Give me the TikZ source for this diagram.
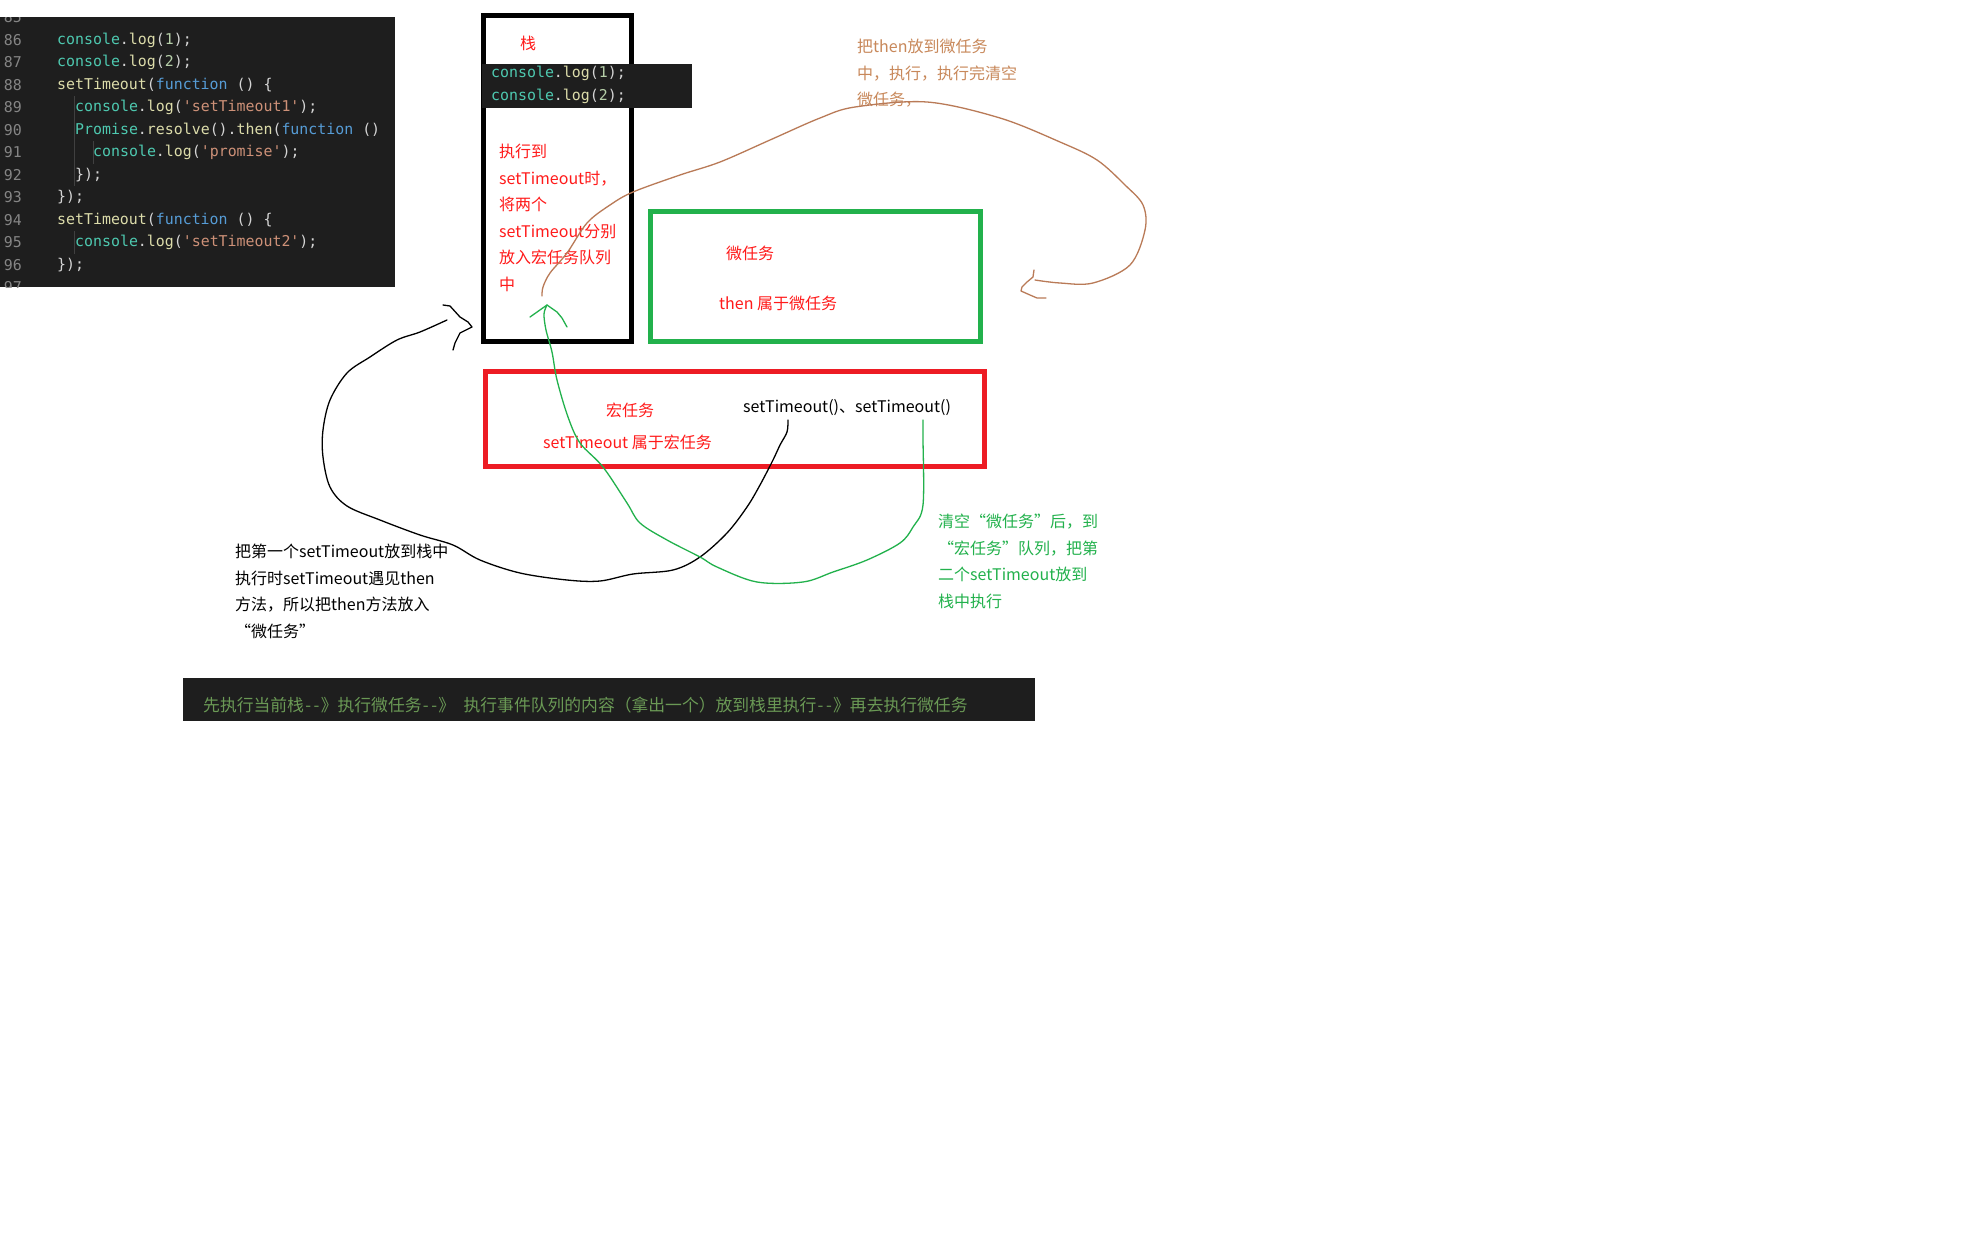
\documentclass[tikz,border=0pt]{standalone}
\usepackage{fontspec}
\newfontfamily\cjk{Noto Sans CJK SC}
\newfontfamily\codefont{DejaVu Sans Mono}
\definecolor{codebg}{HTML}{1E1E1E}
\definecolor{lnum}{HTML}{858585}
\definecolor{cteal}{HTML}{4EC9B0}
\definecolor{cyel}{HTML}{DCDCAA}
\definecolor{cblue}{HTML}{569CD6}
\definecolor{corange}{HTML}{CE9178}
\definecolor{cnum}{HTML}{B5CEA8}
\definecolor{cpunc}{HTML}{D4D4D4}
\definecolor{guide}{HTML}{404040}
\definecolor{pred}{HTML}{ED1C24}
\definecolor{tred}{HTML}{FF1A1A}
\definecolor{pgreen}{HTML}{22B14C}
\definecolor{pbrown}{HTML}{B97A57}
\definecolor{tbrown}{HTML}{C8885A}
\definecolor{cmtgreen}{HTML}{6A9955}
\newcommand\cTe[1]{\textcolor{cteal}{#1}}
\newcommand\cYe[1]{\textcolor{cyel}{#1}}
\newcommand\cBl[1]{\textcolor{cblue}{#1}}
\newcommand\cOr[1]{\textcolor{corange}{#1}}
\newcommand\cNu[1]{\textcolor{cnum}{#1}}
\newcommand\cPu[1]{\textcolor{cpunc}{#1}}
\newcommand\hyb{\makebox[0.5em][c]{-}}
\begin{document}
\begin{tikzpicture}[x=1pt,y=-1pt,
  lbl/.style={inner sep=0pt, font=\cjk\fontsize{16}{26.5}\selectfont, align=left},
  codeln/.style={inner sep=0pt, anchor=west, font=\codefont\fontsize{14.9}{18}\selectfont},
  lnumber/.style={inner sep=0pt, anchor=east, text=lnum, font=\codefont\fontsize{14.9}{18}\selectfont},
  paintbox/.style={line width=5pt},
  hand/.style={line width=1.3pt, line join=round, line cap=round}
]
\fill[white] (0,0) rectangle (1968,1232);
\useasboundingbox (0,0) rectangle (1968,1232);

% ---------- code block ----------
\begin{scope}
\clip (0,17) rectangle (395,287);
\fill[codebg] (0,17) rectangle (395,287);
\draw[guide, line width=1pt] (74,96) -- (74,186);
\draw[guide, line width=1pt] (93,141) -- (93,164);
\draw[guide, line width=1pt] (74,231) -- (74,254);
\node[lnumber] (n85) at (22,17.5) {85};
\node[lnumber] (n86) at (22,40) {86};
\node[lnumber] (n87) at (22,62.5) {87};
\node[lnumber] (n88) at (22,85) {88};
\node[lnumber] (n89) at (22,107.5) {89};
\node[lnumber] (n90) at (22,130) {90};
\node[lnumber] (n91) at (22,152.5) {91};
\node[lnumber] (n92) at (22,175) {92};
\node[lnumber] (n93) at (22,197.5) {93};
\node[lnumber] (n94) at (22,220) {94};
\node[lnumber] (n95) at (22,242.5) {95};
\node[lnumber] (n96) at (22,265) {96};
\node[lnumber] (n97) at (22,287.5) {97};
\node[codeln] (c86) at (57,40) {\cTe{console}\cPu{.}\cYe{log}\cPu{(}\cNu{1}\cPu{);}};
\node[codeln] (c87) at (57,62.5) {\cTe{console}\cPu{.}\cYe{log}\cPu{(}\cNu{2}\cPu{);}};
\node[codeln] (c88) at (57,85) {\cYe{setTimeout}\cPu{(}\cBl{function}\cPu{~()~\{}};
\node[codeln] (c89) at (75,107.5) {\cTe{console}\cPu{.}\cYe{log}\cPu{(}\cOr{'setTimeout1'}\cPu{);}};
\node[codeln] (c90) at (75,130) {\cTe{Promise}\cPu{.}\cYe{resolve}\cPu{().}\cYe{then}\cPu{(}\cBl{function}\cPu{~()}};
\node[codeln] (c91) at (93,152.5) {\cTe{console}\cPu{.}\cYe{log}\cPu{(}\cOr{'promise'}\cPu{);}};
\node[codeln] (c92) at (75,175) {\cPu{\});}};
\node[codeln] (c93) at (57,197.5) {\cPu{\});}};
\node[codeln] (c94) at (57,220) {\cYe{setTimeout}\cPu{(}\cBl{function}\cPu{~()~\{}};
\node[codeln] (c95) at (75,242.5) {\cTe{console}\cPu{.}\cYe{log}\cPu{(}\cOr{'setTimeout2'}\cPu{);}};
\node[codeln] (c96) at (57,265) {\cPu{\});}};
\end{scope}

% ---------- stack box ----------
\draw[paintbox, black] (483.5,15.5) rectangle (631.5,341.5);
\node[lbl, text=tred] (zhan) at (528,43) {栈};
\fill[codebg] (482,64) rectangle (692,108);
\node[codeln] (s1) at (491,73) {\cTe{console}\cPu{.}\cYe{log}\cPu{(}\cNu{1}\cPu{);}};
\node[codeln] (s2) at (491,96) {\cTe{console}\cPu{.}\cYe{log}\cPu{(}\cNu{2}\cPu{);}};
\node[lbl, text=tred, anchor=north west] (stacktxt) at (499,144)
  {执行到\\setTimeout时，\\将两个\\setTimeout分别\\放入宏任务队列\\中};

% ---------- micro task box ----------
\draw[paintbox, pgreen] (650.5,211.5) rectangle (980.5,341.5);
\node[lbl, text=tred] (wei) at (750,253) {微任务};
\node[lbl, text=tred, anchor=west] (thenlbl) at (719,303) {then 属于微任务};

% ---------- macro task box ----------
\draw[paintbox, pred] (485.5,371.5) rectangle (984.5,466.5);
\node[lbl, text=tred] (hong) at (630,410) {宏任务};
\node[lbl, text=tred, anchor=west] (stlbl) at (543,442) {setTimeout 属于宏任务};
\node[lbl, text=black, anchor=west] (sts) at (743,408) {setTimeout()、setTimeout()};

% ---------- explanation texts ----------
\node[lbl, text=tbrown, anchor=north west] (browntxt) at (857,39)
  {把then放到微任务\\中，执行，执行完清空\\微任务，};
\node[lbl, text=black, anchor=north west] (blacktxt) at (235,544)
  {把第一个setTimeout放到栈中\\执行时setTimeout遇见then\\方法，所以把then方法放入\\“微任务”};
\node[lbl, text=pgreen, anchor=north west] (greentxt) at (938,514)
  {清空“微任务”后，到\\“宏任务”队列，把第\\二个setTimeout放到\\栈中执行};

% ---------- bottom bar ----------
\fill[codebg] (183,678) rectangle (1035,721);
\node[inner sep=0pt, anchor=west, text=cmtgreen, font=\cjk\fontsize{16.8}{20}\selectfont] (bar) at (203,705)
  {先执行当前栈\hyb\hyb》执行微任务\hyb\hyb》\makebox[0.5em]{}执行事件队列的内容（拿出一个）放到栈里执行\hyb\hyb》再去执行微任务};

% ---------- hand-drawn connectors ----------
\coordinate (bS) at (542,296);
\coordinate (bE) at (1035,280);
\draw[hand, pbrown] plot[smooth, tension=0.55] coordinates {(bS) (543,287) (550,273) (567,253) (587,223) (610,205) (633,192) (680,175) (720,162) (770,140) (820,118) (855,107) (927,102) (1000,118) (1060,142) (1097,160) (1125,185) (1143,205) (1145,230) (1130,265) (1093,283) (1060,283) (bE)};
\draw[hand, pbrown] (1034,270) -- (1033,277) -- (1027,282) -- (1022,287) -- (1021,291) -- (1030,295) -- (1037,298) -- (1046,298);

\coordinate (kS) at (788,420);
\coordinate (kE) at (447,320);
\draw[hand, black] plot[smooth, tension=0.55] coordinates {(kS) (787,432) (780,445) (773,460) (760,485) (747,507) (727,533) (700,557) (673,570) (633,574) (600,581) (567,580) (520,573) (480,560) (453,545) (420,535) (380,520) (347,506) (330,487) (323,457) (323,430) (330,400) (347,373) (370,357) (397,340) (420,332) (kE)};
\draw[hand, black] (443,305) -- (450,306) -- (460,317) -- (468,322) -- (472,327) -- (460,333) -- (455,343) -- (453,350);

\coordinate (gS) at (923,420);
\coordinate (gE) at (547,305);
\draw[hand, pgreen] plot[smooth, tension=0.55] coordinates {(gS) (923,438) (923,505) (913,527) (900,543) (867,560) (833,572) (803,582) (757,582) (717,567) (700,557) (667,540) (640,523) (627,503) (603,467) (580,443) (568,417) (557,380) (552,352) (546,330) (544,314) (gE)};
\draw[hand, pgreen] (530,317) -- (547,305) -- (557,312) -- (562,318) -- (567,327);
\end{tikzpicture}
\end{document}
